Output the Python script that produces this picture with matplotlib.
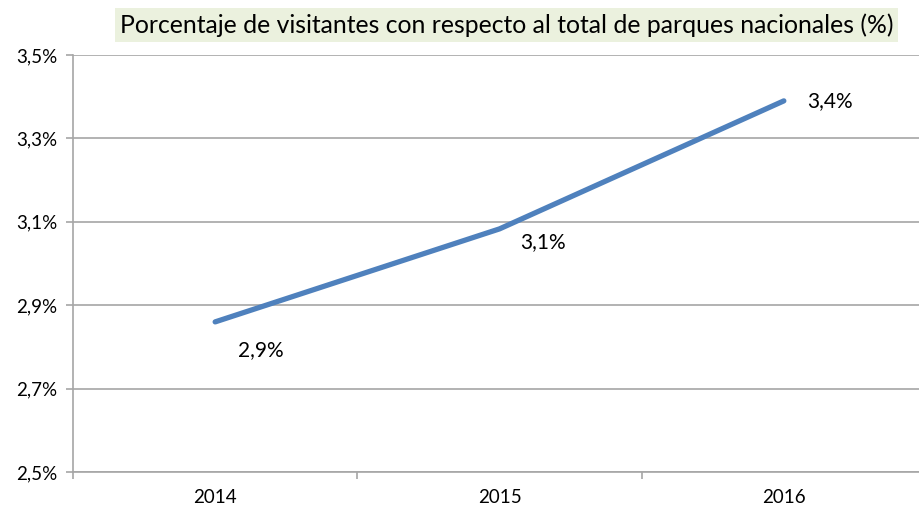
import numpy as np
import matplotlib.pyplot as plt
import matplotlib.ticker as mticker

plt.rcParams['font.family'] = ['Lato', 'DejaVu Sans']

# ==================== data ====================
years = ['2014', '2015', '2016']
pct = [2.86, 3.083, 3.39]

# ==================== figure ====================
fig = plt.figure(figsize=(9.19, 5.08), dpi=100)
ax = fig.add_axes([73 / 919, 36 / 508, 853 / 919, 417 / 508])

x = np.arange(len(years))
ax.plot(x, pct, color='#4F81BD', linewidth=3.8, solid_capstyle='round', zorder=3)

# label offsets (points) from each point, as placed in the original
offsets = [(33, -20), (31, -9.5), (17, 0)]
for xi, v, (dx, dy) in zip(x, pct, offsets):
    txt = f'{v:.1f}%'.replace('.', ',')
    ax.annotate(txt, (xi, v), xytext=(dx, dy), textcoords='offset points',
                ha='center' if dx > 20 else 'left', va='center', fontsize=15)

ax.set_xlim(-0.5, 2.5)
ax.set_ylim(2.5, 3.5)
ax.set_yticks(np.arange(2.5, 3.51, 0.2))
ax.yaxis.set_major_formatter(
    mticker.FuncFormatter(lambda v, pos: f'{v:.1f}%'.replace('.', ','))
)
ax.set_xticks(x)
ax.set_xticklabels(years)
ax.set_xticks([-0.5, 0.5, 1.5, 2.5], minor=True)

ax.grid(axis='y', color='#A6A6A6', linewidth=1.2)
ax.set_axisbelow(True)
for s in ['top', 'right']:
    ax.spines[s].set_visible(False)
for s in ['left', 'bottom']:
    ax.spines[s].set_color('#A6A6A6')
    ax.spines[s].set_linewidth(1.2)

ax.tick_params(axis='y', labelsize=13.5, length=5, color='#A6A6A6', width=1.2, pad=6)
ax.tick_params(axis='x', which='major', length=0, labelsize=13.5, pad=12)
ax.tick_params(axis='x', which='minor', length=5, color='#A6A6A6', width=1.2)

fig.text(0.551, 0.951, 'Porcentaje de visitantes con respecto al total de parques nacionales (%)',
         ha='center', va='center', fontsize=17.8,
         bbox=dict(boxstyle='square,pad=0.2', facecolor='#EBF1DE', edgecolor='none'))

plt.savefig('out.png', dpi=100)
